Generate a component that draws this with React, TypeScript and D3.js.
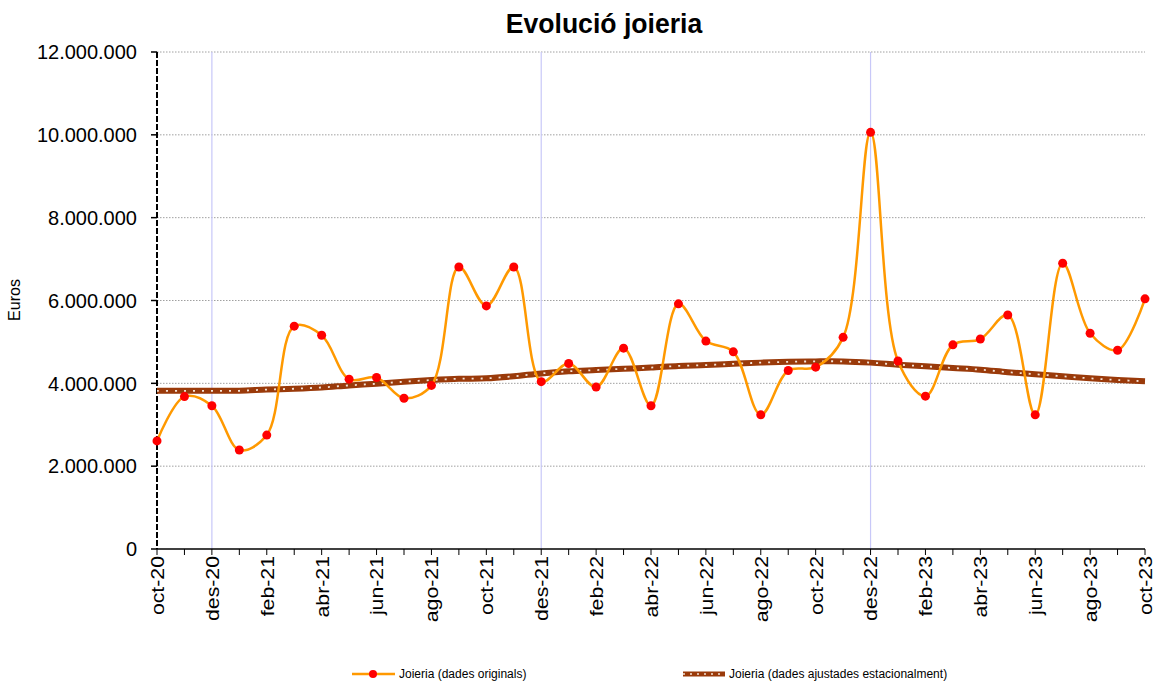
import React from 'react';
import * as d3 from 'd3';

// Month labels (Catalan), oct-20 .. oct-23
const months = [
  'oct-20', 'nov-20', 'des-20',
  'gen-21', 'feb-21', 'mar-21', 'abr-21', 'mai-21', 'jun-21', 'jul-21', 'ago-21', 'set-21', 'oct-21', 'nov-21', 'des-21',
  'gen-22', 'feb-22', 'mar-22', 'abr-22', 'mai-22', 'jun-22', 'jul-22', 'ago-22', 'set-22', 'oct-22', 'nov-22', 'des-22',
  'gen-23', 'feb-23', 'mar-23', 'abr-23', 'mai-23', 'jun-23', 'jul-23', 'ago-23', 'set-23', 'oct-23'
];

// Joieria (dades originals), euros
const originals = [
  2610000, 3680000, 3460000,
  2390000, 2750000, 5380000, 5160000, 4100000, 4140000, 3640000, 3950000, 6810000, 5870000, 6810000, 4040000,
  4480000, 3910000, 4850000, 3460000, 5920000, 5020000, 4760000, 3240000, 4310000, 4390000, 5110000, 10060000,
  4540000, 3690000, 4930000, 5070000, 5650000, 3240000, 6900000, 5210000, 4800000, 6040000
];

// Joieria (dades ajustades estacionalment), euros
const ajustades = [
  3820000, 3820000, 3820000,
  3820000, 3850000, 3870000, 3900000, 3950000, 3990000, 4040000, 4080000, 4110000, 4120000, 4170000, 4240000,
  4290000, 4320000, 4350000, 4380000, 4420000, 4440000, 4470000, 4500000, 4520000, 4530000, 4530000, 4500000,
  4450000, 4410000, 4370000, 4330000, 4270000, 4220000, 4170000, 4120000, 4080000, 4050000
];

const yTicks = [0, 2000000, 4000000, 6000000, 8000000, 10000000, 12000000];
const yearMarks = ['des-20', 'des-21', 'des-22'];

const fmt = (v: number) => d3.format(',')(v).replace(/,/g, '.');

export default function App() {
  const width = 1163;
  const height = 685;
  const left = 157, right = 1145, top = 52, bottom = 549;

  const x = d3.scalePoint<string>().domain(months).range([left, right]);
  const y = d3.scaleLinear().domain([0, 12000000]).range([bottom, top]);

  const line = d3.line<number>()
    .x((_, i) => x(months[i])!)
    .y(d => y(d))
    .curve(d3.curveCatmullRom.alpha(0.5));

  const font = 'Arial, "Liberation Sans", sans-serif';

  return (
    <svg width={width} height={height} style={{ position: 'absolute', left: 0, top: 0, background: '#fff' }} fontFamily={font}>
      {/* title */}
      <text x={604} y={33} textAnchor="middle" fontSize={28} fontWeight="bold" transform="translate(604,0) scale(0.95,1) translate(-604,0)">Evolució joieria</text>

      {/* gridlines */}
      {yTicks.filter(t => t > 0).map(t => (
        <line key={t} x1={left} x2={right} y1={y(t)} y2={y(t)} stroke="#a0a0a0" strokeWidth={1} strokeDasharray="1.5 1.5" />
      ))}

      {/* year separators */}
      {yearMarks.map(m => (
        <line key={m} x1={x(m)} x2={x(m)} y1={top} y2={bottom} stroke="#c8c8f8" strokeWidth={1.2} />
      ))}

      {/* y axis */}
      <line x1={left} x2={left} y1={top} y2={bottom} stroke="#000" strokeWidth={2} strokeDasharray="6 2" />
      {yTicks.map(t => (
        <g key={t}>
          <line x1={left - 6} x2={left} y1={y(t)} y2={y(t)} stroke="#000" strokeWidth={1.5} />
          <text x={137} y={y(t)} dy="0.36em" textAnchor="end" fontSize={20}>{fmt(t)}</text>
        </g>
      ))}
      <text transform={`translate(20,300) rotate(-90)`} textAnchor="middle" fontSize={16}>Euros</text>

      {/* x axis */}
      <line x1={left} x2={right} y1={bottom} y2={bottom} stroke="#000" strokeWidth={1.5} />
      {months.map((m, i) => (
        <g key={m}>
          <line x1={x(m)} x2={x(m)} y1={bottom} y2={bottom + 6} stroke="#000" strokeWidth={1} />
          {i % 2 === 0 && (
            <text transform={`translate(${x(m)},556) rotate(-90) scale(1.12,1)`} dy="0.36em" textAnchor="end" fontSize={19}>{m}</text>
          )}
        </g>
      ))}

      {/* seasonally adjusted series */}
      <path d={line(ajustades)!} fill="none" stroke="#9a3a0a" strokeWidth={6} />
      <path d={line(ajustades)!} fill="none" stroke="#f4e4d8" strokeWidth={1.8} strokeDasharray="2 7" />

      {/* original series */}
      <path d={line(originals)!} fill="none" stroke="#ff9900" strokeWidth={2.5} />
      {originals.map((v, i) => (
        <circle key={i} cx={x(months[i])} cy={y(v)} r={4.5} fill="#ff0000" />
      ))}

      {/* legend */}
      <line x1={352} x2={395} y1={674} y2={674} stroke="#ff9900" strokeWidth={2.5} />
      <circle cx={373} cy={674} r={4} fill="#ff0000" />
      <text x={399} y={678} fontSize={12}>Joieria (dades originals)</text>

      <line x1={683} x2={725} y1={674} y2={674} stroke="#9a3a0a" strokeWidth={5} />
      <line x1={683} x2={725} y1={674} y2={674} stroke="#f4e4d8" strokeWidth={1.5} strokeDasharray="2 5" />
      <text x={729} y={678} fontSize={12}>Joieria (dades ajustades estacionalment)</text>
    </svg>
  );
}
